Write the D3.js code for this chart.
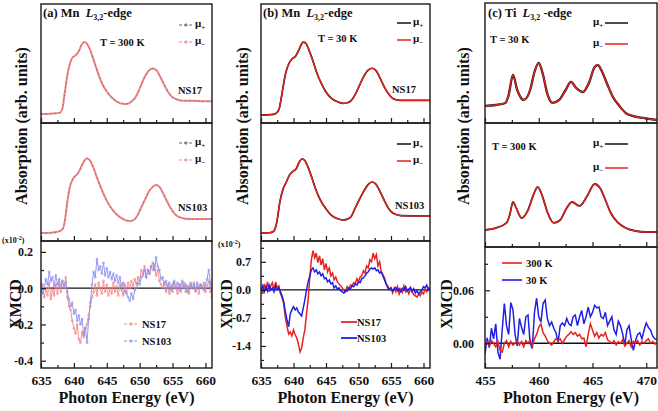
<!DOCTYPE html>
<html>
<head>
<meta charset="utf-8">
<script src="https://cdn.jsdelivr.net/npm/d3@7"></script>
<style>
body { margin: 0; background: #fff; }
text { font-family: "Liberation Serif", "Times New Roman", serif; font-weight: bold; fill: #111; }
.tl { font-size: 13.5px; }
.yl { font-size: 12px; }
.ax { font-size: 16px; }
.ttl { font-size: 12.5px; }
.lab { font-size: 10.5px; }
.mul { font-size: 11px; }
.sc { font-size: 8px; }
</style>
</head>
<body>
<script>
// energy grids for the xmcd difference spectra
var mnGrid = d3.range(105).map(function(i) { return 635 + i * 0.25; });
var tiGrid = d3.range(81).map(function(i) { return 455 + i * 0.2; });

// absorption spectra [energy, normalised intensity]
var absA_NS17 = [[635,0.076],[636,0.076],[637,0.08],[637.8,0.085],[638.2,0.11],[638.6,0.25],[639,0.4],[639.4,0.5],[639.8,0.55],[640.3,0.57],[640.8,0.61],[641.2,0.66],[641.6,0.68],[642,0.665],[642.5,0.61],[643,0.53],[643.6,0.43],[644.3,0.33],[645,0.265],[645.8,0.212],[646.6,0.178],[647.4,0.162],[648,0.16],[648.6,0.174],[649.2,0.203],[649.8,0.263],[650.3,0.33],[650.8,0.39],[651.4,0.44],[652,0.458],[652.6,0.44],[653.2,0.38],[653.8,0.314],[654.4,0.254],[655,0.216],[655.8,0.195],[656.6,0.186],[658,0.186],[660,0.182],[661,0.182]];
var absA_NS103 = [[635,0.068],[636.5,0.07],[637.5,0.078],[638.2,0.095],[638.6,0.16],[639,0.33],[639.4,0.46],[639.8,0.52],[640.2,0.55],[640.7,0.58],[641.2,0.64],[641.7,0.69],[642,0.7],[642.4,0.685],[642.9,0.63],[643.5,0.54],[644.2,0.44],[645,0.34],[645.8,0.27],[646.6,0.22],[647.5,0.185],[648.4,0.17],[649,0.175],[649.6,0.21],[650.2,0.28],[650.8,0.35],[651.4,0.42],[652,0.46],[652.5,0.475],[653,0.46],[653.6,0.4],[654.2,0.33],[654.8,0.27],[655.5,0.22],[656.4,0.195],[657.5,0.186],[661,0.186]];
var absB_NS17 = [[635,0.068],[636.5,0.07],[637.3,0.08],[637.8,0.12],[638.3,0.27],[638.8,0.42],[639.3,0.5],[639.8,0.54],[640.3,0.56],[640.8,0.61],[641.2,0.66],[641.5,0.68],[641.9,0.67],[642.4,0.61],[643,0.52],[643.6,0.42],[644.3,0.33],[645,0.26],[645.8,0.21],[646.7,0.18],[647.6,0.165],[648.3,0.17],[648.9,0.19],[649.5,0.24],[650.1,0.31],[650.7,0.38],[651.4,0.44],[652.1,0.46],[652.7,0.44],[653.3,0.38],[654,0.3],[654.7,0.24],[655.5,0.2],[656.5,0.19],[661,0.19]];
var absB_NS103 = [[635,0.068],[636.3,0.07],[636.9,0.08],[637.4,0.15],[637.9,0.33],[638.4,0.44],[638.9,0.5],[639.4,0.56],[639.9,0.59],[640.4,0.61],[640.9,0.67],[641.3,0.695],[641.7,0.685],[642.2,0.63],[642.8,0.54],[643.4,0.44],[644.1,0.35],[644.9,0.28],[645.8,0.22],[646.7,0.19],[647.6,0.178],[648.3,0.185],[648.9,0.21],[649.5,0.28],[650.2,0.36],[650.8,0.42],[651.5,0.48],[652.1,0.5],[652.7,0.48],[653.3,0.42],[654,0.34],[654.7,0.27],[655.5,0.23],[656.5,0.215],[661,0.212]];
var absC_30K = [[455,0.142],[456,0.15],[456.9,0.167],[457.2,0.233],[457.6,0.4],[458,0.275],[458.6,0.192],[459.2,0.275],[459.6,0.425],[460,0.5],[460.4,0.4],[460.8,0.242],[461.3,0.167],[461.9,0.192],[462.5,0.275],[463,0.342],[463.5,0.29],[464.1,0.258],[464.7,0.342],[465.2,0.467],[465.5,0.483],[465.9,0.425],[466.4,0.317],[466.9,0.217],[467.5,0.142],[468.1,0.083],[468.8,0.058],[469.7,0.042],[471,0.025]];
var absC_300K = [[455,0.137],[456,0.153],[457,0.194],[457.3,0.258],[457.6,0.363],[457.9,0.315],[458.4,0.234],[459,0.298],[459.5,0.419],[459.9,0.484],[460.3,0.419],[460.8,0.282],[461.4,0.194],[462,0.218],[462.6,0.315],[463.1,0.363],[463.8,0.331],[464.5,0.411],[465.2,0.508],[465.7,0.476],[466.2,0.379],[466.7,0.274],[467.3,0.202],[468.1,0.153],[469,0.129],[470,0.121],[471,0.121]];

// xmcd, Mn (a) 300 K, x10^-2, on mnGrid
var xmA_NS17 = [-0.02,0.02,-0.05,0,-0.04,0.03,-0.06,-0.01,-0.04,0.02,-0.03,0.03,-0.02,0.04,0,0.06,-0.05,-0.1,-0.12,-0.18,-0.22,-0.25,-0.2,-0.28,-0.3,-0.24,-0.27,-0.22,-0.2,-0.15,-0.1,-0.05,-0.02,0.02,-0.04,0.03,0,-0.03,0.04,-0.02,0.02,-0.04,0,-0.03,0.03,-0.02,0.01,-0.04,0.02,-0.01,-0.04,0.02,-0.02,0.03,0,0.04,0.01,0.05,0.02,0.06,0.04,0.1,0.08,0.12,0.06,0.1,0.08,0.12,0.1,0.13,0.07,0.1,0.04,0.02,0,0.03,-0.02,0.02,-0.03,0.01,-0.02,0.03,0,-0.03,0.02,-0.02,0.01,0.03,-0.02,0.01,-0.03,0.02,0,0.03,-0.02,0.01,-0.03,0.02,0,0.03,-0.02,0.01,0.04,-0.02,0];
var xmA_NS103 = [0.02,-0.03,0,0.05,0.02,0.09,0.04,0.06,0.01,0.07,0.02,0.05,0,0.04,0.01,0.03,-0.02,-0.06,-0.1,-0.08,-0.14,-0.12,-0.18,-0.15,-0.2,-0.17,-0.26,-0.22,-0.3,-0.17,-0.08,0.02,0.09,0.06,0.16,0.1,0.12,0.08,0.14,0.07,0.11,0.06,0.09,0.05,0.08,0.04,0.07,0.03,0.06,0.01,0.03,-0.02,-0.03,-0.05,-0.07,-0.03,-0.06,-0.01,0,0.03,0.02,0.06,0.07,0.1,0.06,0.1,0.08,0.12,0.14,0.1,0.17,0.12,0.1,0.05,0.06,0.02,0.04,0,0.03,-0.01,0.02,0.04,0,0.03,-0.01,0.02,0.04,0,0.02,-0.02,0.01,0.03,0,0.02,-0.01,0.03,0,0.02,0.01,-0.01,0.02,0.05,0.1,0.03,-0.05];
// xmcd, Mn (b) 30 K
var xmB_NS17 = [0.05,-0.1,0.15,0,0.2,-0.05,0.1,0.18,0,0.2,0.05,0.1,-0.1,-0.2,-0.35,-0.7,-0.9,-1.1,-1.05,-1.15,-1,-1.12,-1.2,-1.35,-1.55,-1.45,-1.2,-1,-0.6,-0.25,0.3,0.75,0.98,0.8,0.92,0.68,0.85,0.62,0.78,0.5,0.66,0.45,0.55,0.35,0.42,0.25,0.32,0.2,0.15,0.1,0.05,0,-0.05,0.08,0,0.12,0.1,0.18,0.15,0.28,0.2,0.32,0.35,0.48,0.42,0.6,0.55,0.75,0.7,0.92,0.78,0.88,0.6,0.7,0.45,0.38,0.3,0.15,0.1,0.02,0.05,-0.08,0.05,-0.05,0.08,-0.1,0.02,-0.06,0.1,-0.05,0,-0.1,0.05,-0.05,-0.12,-0.15,-0.18,-0.1,-0.15,-0.05,-0.1,0.02,-0.05,0.05,0];
var xmB_NS103 = [0,0.1,-0.05,0.08,-0.03,0.12,0,0.05,-0.05,0.1,0,0.05,-0.05,-0.15,-0.3,-0.55,-0.75,-0.92,-0.6,-0.5,-0.42,-0.5,-0.45,-0.55,-0.6,-0.65,-0.45,-0.25,0,0.2,0.35,0.5,0.55,0.45,0.5,0.4,0.45,0.35,0.4,0.28,0.3,0.2,0.25,0.15,0.18,0.05,0.1,0.02,0.05,-0.02,-0.05,-0.08,0,-0.03,0.05,0.02,0.1,0.08,0.15,0.12,0.2,0.18,0.28,0.3,0.35,0.42,0.45,0.52,0.55,0.52,0.55,0.48,0.5,0.42,0.45,0.35,0.25,0.15,0.05,0,0.05,-0.03,0.02,0.06,-0.02,0.03,-0.05,0.04,0,0.08,-0.03,0.02,0.06,-0.04,0.03,-0.08,-0.02,-0.1,-0.05,0,0.08,0.05,0.12,0,0.05];
// xmcd, Ti (c), on tiGrid
var xmC_300K = [0,0.002,-0.003,0.003,0,-0.004,0.002,-0.008,-0.01,0,0.003,-0.004,0.002,-0.002,0,0.003,-0.002,0.002,-0.004,0.003,0,0.004,-0.003,0.005,0.01,0.018,0.022,0.012,0.008,0.003,0,-0.002,0.002,0.005,0.003,0.005,0,0.004,0.008,0.01,0.013,0.01,0.012,0.008,0.01,0.005,0.006,-0.004,0.01,0.022,0.015,0.008,0.012,0.006,0.01,0.008,0.012,0.004,0.002,0,0.003,-0.002,0.002,0,0.004,-0.003,0,0.003,-0.004,0.002,0,0.003,-0.002,0.002,0,0.003,0.005,0,0.002,-0.001,0];
var xmC_30K = [-0.012,0.006,-0.005,0.017,0.005,0.022,-0.01,-0.018,0.015,0.045,0.02,0.01,0.046,0.038,0.01,-0.003,0.028,0.018,0.01,0.03,0.032,0,-0.006,0.035,0.051,0.03,0.024,0.045,0.049,0.028,0.02,0.024,0.017,0.012,0.001,0.02,0.023,0.02,0.028,0.022,0.02,0.03,0.032,0.02,0.03,0.037,0.022,0.03,0.041,0.03,0.035,0.043,0.04,0.041,0.03,0.028,0.035,0.02,0.025,0.03,0.015,0.01,0.025,0.02,0.011,-0.002,0.015,0.02,0.005,-0.008,0.003,0.01,0.012,0.005,0.015,0.023,0.018,0.015,0.008,0.005,0.004];

var mnMajor = [635, 640, 645, 650, 655, 660];
var mnMinor = [637.5, 642.5, 647.5, 652.5, 657.5];
var tiMajor = [455, 460, 465, 470];
var tiMinor = [457.5, 462.5, 467.5];

var RED = "#e8221e", BLUE = "#1f1fe6", PINK = "#f08585", LBLUE = "#8c8cf2";

var svg = d3.select("body").append("svg").attr("width", 658).attr("height", 411);

var cols = [
  {id: "a", x0: 41, x1: 212, dom: [635, 661], rows: [[4, 123], [123, 241], [241, 368]],
   major: mnMajor, minor: mnMinor, ydom: [-0.44, 0.26], ymaj: [-0.4, -0.2, 0, 0.2], ymin: [-0.3, -0.1, 0.1], yfmt: 1, pad: 8},
  {id: "b", x0: 261, x1: 430, dom: [635, 661], rows: [[4, 123], [123, 241], [241, 368]],
   major: mnMajor, minor: mnMinor, ydom: [-1.95, 1.22], ymaj: [-1.4, -0.7, 0, 0.7], ymin: [-1.75, -1.05, -0.35, 0.35, 1.05], yfmt: 1, pad: 10},
  {id: "c", x0: 485, x1: 657, dom: [455, 471], rows: [[3, 123], [123, 247], [247, 368]],
   major: tiMajor, minor: tiMinor, ydom: [-0.028, 0.109], ymaj: [0, 0.06], ymin: [0.03, 0.09], yfmt: 2, pad: 11}
];

cols.forEach(function(c) {
  c.x = d3.scaleLinear().domain(c.dom).range([c.x0, c.x1]);
  c.y = c.rows.map(function(r, i) {
    return d3.scaleLinear().domain(i < 2 ? [0, 1] : c.ydom).range([r[1], r[0]]);
  });
  c.rows.forEach(function(r, i) {
    svg.append("clipPath").attr("id", "clip-" + c.id + i)
      .append("rect").attr("x", c.x0).attr("y", r[0]).attr("width", c.x1 - c.x0).attr("height", r[1] - r[0]);
  });
});

function layer(c, i) {
  return svg.append("g").attr("clip-path", "url(#clip-" + c.id + i + ")");
}

var absLine = function(c, i) {
  return d3.line().curve(d3.curveMonotoneX)
    .x(function(d) { return c.x(d[0]); })
    .y(function(d) { return c.y[i](d[1]); });
};
var gridLine = function(c, grid) {
  return d3.line()
    .x(function(d, k) { return c.x(grid[k]); })
    .y(function(d) { return c.y[2](d); });
};

// ---- data ----
// (a) absorption, dashed with markers
[[absA_NS17, 0], [absA_NS103, 1]].forEach(function(p) {
  var c = cols[0], g = layer(c, p[1]);
  g.append("path").attr("d", absLine(c, p[1])(p[0])).attr("fill", "none")
    .attr("stroke", PINK).attr("stroke-width", 2);
  g.append("path").attr("d", absLine(c, p[1])(p[0])).attr("fill", "none")
    .attr("stroke", "#555").attr("stroke-width", 0.7).attr("stroke-dasharray", "1.5,3").attr("opacity", 0.8);
});
// (b), (c) absorption, solid
[[cols[1], absB_NS17, 0, 1.7], [cols[1], absB_NS103, 1, 1.7], [cols[2], absC_30K, 0, 2.3], [cols[2], absC_300K, 1, 1.8]].forEach(function(p) {
  var c = p[0], g = layer(c, p[2]);
  g.append("path").attr("d", absLine(c, p[2])(p[1])).attr("fill", "none")
    .attr("stroke", "#111").attr("stroke-width", p[3]);
  g.append("path").attr("d", absLine(c, p[2])(p[1])).attr("fill", "none")
    .attr("stroke", RED).attr("stroke-width", 1.4);
});

// zero lines
cols.forEach(function(c) {
  svg.append("line").attr("x1", c.x0).attr("x2", c.x1)
    .attr("y1", c.y[2](0)).attr("y2", c.y[2](0))
    .attr("stroke", "#111").attr("stroke-width", 1.4);
});

// (a) xmcd with markers
[[xmA_NS17, PINK], [xmA_NS103, LBLUE]].forEach(function(p) {
  var c = cols[0], g = layer(c, 2);
  g.append("path").attr("d", gridLine(c, mnGrid)(p[0])).attr("fill", "none")
    .attr("stroke", p[1]).attr("stroke-width", 0.9);
  g.selectAll(null).data(p[0]).enter().append("circle")
    .attr("cx", function(d, k) { return c.x(mnGrid[k]); })
    .attr("cy", function(d) { return c.y[2](d); })
    .attr("r", 1).attr("fill", "none").attr("stroke", p[1]).attr("stroke-width", 0.7);
});
// (b) xmcd
[[xmB_NS17, RED], [xmB_NS103, BLUE]].forEach(function(p) {
  var c = cols[1], g = layer(c, 2);
  g.append("path").attr("d", gridLine(c, mnGrid)(p[0])).attr("fill", "none")
    .attr("stroke", p[1]).attr("stroke-width", 1.5);
});
// (c) xmcd
[[xmC_30K, BLUE], [xmC_300K, RED]].forEach(function(p) {
  var c = cols[2], g = layer(c, 2);
  g.append("path").attr("d", gridLine(c, tiGrid)(p[0])).attr("fill", "none")
    .attr("stroke", p[1]).attr("stroke-width", 1.5);
});

// ---- frames and axes ----
function fixAxis(g) {
  g.attr("font-size", null).attr("font-family", null);
  g.selectAll(".domain").remove();
  g.selectAll(".tick line").attr("stroke", "#1a1a1a").attr("stroke-width", 1.2);
}

cols.forEach(function(c) {
  c.rows.forEach(function(r, i) {
    svg.append("rect").attr("x", c.x0).attr("y", r[0]).attr("width", c.x1 - c.x0).attr("height", r[1] - r[0])
      .attr("fill", "none").attr("stroke", "#1a1a1a").attr("stroke-width", 1.4);

    var gx = svg.append("g").attr("transform", "translate(0," + r[1] + ")");
    gx.call(d3.axisBottom(c.x).tickValues(c.major).tickSize(-5).tickPadding(7)
      .tickFormat(i === 2 ? d3.format("d") : ""));
    fixAxis(gx);
    gx.selectAll("text").attr("class", "tl");
    var gm = svg.append("g").attr("transform", "translate(0," + r[1] + ")");
    gm.call(d3.axisBottom(c.x).tickValues(c.minor).tickSize(-3).tickFormat(""));
    fixAxis(gm);
  });

  var gy = svg.append("g").attr("transform", "translate(" + c.x0 + ",0)");
  gy.call(d3.axisLeft(c.y[2]).tickValues(c.ymaj).tickSize(-5).tickPadding(c.pad)
    .tickFormat(function(d) { return d.toFixed(c.yfmt); }));
  fixAxis(gy);
  gy.selectAll("text").attr("class", "yl");
  var gyn = svg.append("g").attr("transform", "translate(" + c.x0 + ",0)");
  gyn.call(d3.axisLeft(c.y[2]).tickValues(c.ymin).tickSize(-3).tickFormat(""));
  fixAxis(gyn);

  svg.append("text").attr("class", "ax").attr("text-anchor", "middle")
    .attr("x", (c.x0 + c.x1) / 2).attr("y", 403).text("Photon Energy (eV)");
});

// rotated y titles
[[27, 126], [248, 126], [469, 126]].forEach(function(p) {
  svg.append("text").attr("class", "ax").attr("text-anchor", "middle")
    .attr("transform", "translate(" + p[0] + "," + p[1] + ") rotate(-90)")
    .text("Absorption (arb. units)");
});
[[21, 304], [232, 304], [452, 304]].forEach(function(p) {
  svg.append("text").attr("class", "ax").attr("text-anchor", "middle")
    .attr("transform", "translate(" + p[0] + "," + p[1] + ") rotate(-90)")
    .text("XMCD");
});

// scale note
[[2, 243], [218, 247]].forEach(function(p) {
  var t = svg.append("text").attr("class", "sc").attr("x", p[0]).attr("y", p[1]);
  t.append("tspan").text("(x10");
  t.append("tspan").attr("dy", -3).attr("font-size", 6).text("-2");
  t.append("tspan").attr("dy", 3).text(")");
});

// titles
function title(x, y, lab, el, gap) {
  var t = svg.append("text").attr("class", "ttl").attr("x", x).attr("y", y);
  t.append("tspan").text(lab + " " + el + "\u00a0 ");
  t.append("tspan").attr("font-style", "italic").text("L");
  t.append("tspan").attr("dy", 3).attr("font-size", 8).text("3,2");
  t.append("tspan").attr("dy", -3).text(gap + "-edge");
}
title(43, 17, "(a)", "Mn", "");
title(263, 17, "(b)", "Mn", "");
title(488, 17, "(c)", "Ti", " ");

function label(x, y, s) {
  svg.append("text").attr("class", "lab").attr("x", x).attr("y", y).text(s);
}
label(100, 46, "T = 300 K");
label(318, 42, "T = 30 K");
label(490, 43, "T = 30 K");
label(492, 150, "T = 300 K");
label(178, 94, "NS17");
label(178, 211, "NS103");
label(392, 93, "NS17");
label(395, 209, "NS103");

function mu(x, y, sign) {
  var t = svg.append("text").attr("class", "mul").attr("x", x).attr("y", y);
  t.append("tspan").text("\u03bc");
  t.append("tspan").attr("dy", 3).attr("font-size", 7).text(sign);
}
function legLine(x1, x2, y, col, w, dash) {
  svg.append("line").attr("x1", x1).attr("x2", x2).attr("y1", y).attr("y2", y)
    .attr("stroke", col).attr("stroke-width", w).attr("stroke-dasharray", dash || null);
}
function legMark(x, y, col) {
  svg.append("circle").attr("cx", x).attr("cy", y).attr("r", 1.2)
    .attr("fill", "none").attr("stroke", col).attr("stroke-width", 0.8);
}

// (a) legends
[25, 143].forEach(function(y) {
  legLine(179, 193, y, "#666", 1, "3,2"); legMark(186, y, "#666"); mu(195, y + 2, "+");
  legLine(179, 193, y + 17, PINK, 1, "3,2"); legMark(186, y + 17, PINK); mu(195, y + 19, "\u2212");
});
legLine(124, 139, 324, PINK, 1, "3,2"); legMark(131, 324, PINK); label(142, 328, "NS17");
legLine(124, 139, 341, LBLUE, 1, "3,2"); legMark(131, 341, LBLUE); label(142, 345, "NS103");

// (b) legends
[23, 144].forEach(function(y) {
  legLine(397, 411, y, "#111", 1.5); mu(413, y + 2, "+");
  legLine(397, 411, y + 17, RED, 1.5); mu(413, y + 19, "\u2212");
});
legLine(341, 357, 322, RED, 1.8); label(357, 326, "NS17");
legLine(341, 357, 338, BLUE, 1.8); label(357, 342, "NS103");

// (c) legends
[[23, 44], [144, 168]].forEach(function(p) {
  mu(593, p[0] + 2, "+"); legLine(605, 628, p[0], "#111", 1.5);
  mu(593, p[1] + 2, "\u2212"); legLine(605, 628, p[1], RED, 1.5);
});
legLine(502, 522, 263, RED, 1.6); label(526, 267, "300 K");
legLine(502, 522, 280, BLUE, 1.6); label(526, 284, "30 K");
</script>
</body>
</html>
